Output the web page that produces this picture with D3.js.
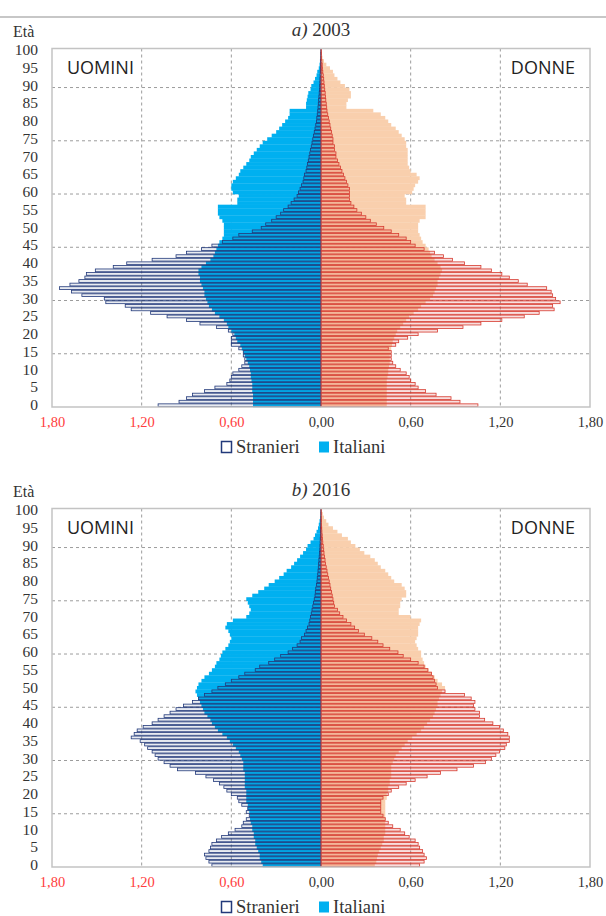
<!DOCTYPE html>
<html>
<head>
<meta charset="utf-8">
<script src="https://cdn.jsdelivr.net/npm/d3@7"></script>
<style>
  body { margin: 0; background: #fff; }
  svg { display: block; }
</style>
</head>
<body>
<svg id="chart" width="606" height="916"></svg>
<script>
// Età (0-100)
const ages = d3.range(0, 101);
const ageTicks = [0, 5, 10, 15, 20, 25, 30, 35, 40, 45, 50, 55, 60, 65, 70, 75, 80, 85, 90, 95, 100];
const ageGrid = [15, 30, 45, 60, 75, 90];
const xTicks = [-1.8, -1.2, -0.6, 0, 0.6, 1.2, 1.8];
const xGrid = [-1.2, -0.6, 0.6, 1.2];

// Quote percentuali per età, 2003
const italianiUomini2003 = [
  .455,.455,.455,.455,.46,.46,.46,.465,.47,.47,
  .475,.48,.49,.50,.51,.52,.53,.54,.56,.57,
  .58,.60,.62,.63,.65,.68,.71,.73,.75,.76,
  .77,.78,.78,.79,.80,.81,.81,.82,.82,.80,
  .77,.74,.72,.71,.70,.69,.68,.66,.65,.65,
  .65,.65,.66,.68,.69,.69,.69,.56,.56,.55,
  .59,.60,.60,.59,.57,.55,.54,.52,.50,.48,
  .47,.45,.43,.41,.39,.36,.33,.30,.28,.26,
  .24,.22,.21,.21,.10,.10,.095,.09,.085,.07,
  .065,.05,.04,.03,.025,.015,.01,.007,.004,.003,.002
];
const stranieriUomini2003 = [
  1.09,.95,.90,.86,.78,.71,.63,.61,.60,.59,
  .55,.53,.51,.51,.52,.52,.55,.60,.60,.60,
  .59,.62,.70,.81,.90,1.03,1.14,1.27,1.31,1.44,
  1.45,1.60,1.67,1.75,1.68,1.62,1.58,1.57,1.51,1.39,
  1.30,1.13,.97,.90,.80,.73,.66,.59,.55,.46,
  .40,.37,.33,.30,.27,.25,.22,.20,.18,.16,
  .15,.14,.13,.12,.115,.11,.10,.095,.09,.085,
  .08,.075,.07,.065,.06,.055,.05,.045,.04,.035,
  .03,.028,.025,.022,.02,.018,.016,.014,.012,.01,
  .009,.008,.007,.006,.005,.004,.003,.003,.002,.002,.001
];
const italianeDonne2003 = [
  .44,.44,.44,.44,.44,.44,.44,.44,.445,.45,
  .45,.455,.46,.46,.46,.465,.47,.475,.48,.49,
  .50,.51,.53,.55,.57,.59,.62,.65,.67,.70,
  .73,.75,.76,.77,.78,.78,.79,.80,.81,.80,
  .78,.76,.74,.73,.72,.70,.68,.67,.66,.65,
  .65,.65,.66,.70,.70,.70,.70,.57,.57,.56,
  .61,.62,.63,.65,.66,.64,.60,.59,.58,.58,
  .58,.58,.58,.57,.57,.56,.54,.52,.50,.47,
  .45,.43,.40,.35,.17,.17,.18,.20,.20,.19,
  .16,.13,.11,.09,.08,.06,.036,.02,.01,.006,.004
];
const straniereDonne2003 = [
  1.05,.93,.87,.77,.70,.65,.63,.60,.59,.57,
  .53,.50,.48,.47,.47,.47,.45,.50,.52,.58,
  .65,.78,.95,1.07,1.21,1.36,1.46,1.56,1.55,1.60,
  1.57,1.55,1.54,1.51,1.38,1.32,1.26,1.21,1.14,1.07,
  .96,.88,.82,.76,.69,.63,.60,.57,.52,.47,
  .42,.37,.33,.30,.27,.24,.22,.20,.19,.19,
  .19,.19,.18,.17,.16,.15,.14,.13,.12,.11,
  .10,.10,.09,.09,.08,.08,.075,.07,.065,.06,
  .055,.05,.045,.04,.038,.035,.032,.03,.028,.025,
  .022,.02,.018,.015,.012,.01,.008,.006,.004,.003,.002
];

// Quote percentuali per età, 2016
const italianiUomini2016 = [
  .39,.40,.41,.41,.42,.43,.44,.44,.45,.45,
  .46,.46,.47,.475,.475,.48,.49,.49,.50,.50,
  .50,.50,.51,.51,.51,.51,.51,.52,.52,.52,
  .53,.54,.55,.57,.59,.61,.63,.66,.69,.71,
  .73,.74,.76,.78,.79,.80,.81,.82,.83,.84,
  .83,.82,.80,.78,.75,.73,.71,.70,.68,.67,
  .66,.64,.62,.61,.60,.61,.62,.64,.63,.59,
  .50,.48,.47,.48,.49,.50,.46,.42,.38,.35,
  .31,.28,.25,.23,.20,.18,.16,.14,.12,.10,
  .09,.07,.05,.04,.03,.02,.015,.01,.006,.004,.002
];
const stranieriUomini2016 = [
  .73,.75,.77,.78,.75,.74,.73,.70,.665,.62,
  .575,.53,.52,.50,.48,.50,.49,.53,.55,.56,
  .60,.63,.65,.68,.72,.77,.84,.96,1.01,1.05,
  1.09,1.11,1.13,1.16,1.18,1.21,1.27,1.25,1.23,1.19,
  1.13,1.09,1.05,1.01,.97,.92,.86,.82,.78,.73,
  .69,.64,.60,.55,.51,.44,.41,.35,.31,.27,
  .22,.19,.16,.14,.13,.11,.10,.09,.08,.075,
  .07,.065,.06,.055,.05,.045,.04,.038,.035,.03,
  .027,.025,.022,.02,.018,.016,.014,.012,.01,.008,
  .007,.006,.005,.004,.003,.003,.002,.002,.001,.001,.001
];
const italianeDonne2016 = [
  .36,.37,.375,.38,.39,.40,.41,.42,.42,.43,
  .43,.43,.43,.43,.43,.43,.43,.43,.43,.44,
  .44,.45,.45,.46,.46,.47,.47,.47,.47,.48,
  .49,.50,.52,.54,.56,.58,.61,.64,.67,.69,
  .71,.73,.75,.76,.77,.78,.78,.79,.80,.81,
  .83,.81,.78,.76,.74,.72,.70,.69,.68,.67,
  .67,.65,.64,.63,.64,.65,.65,.65,.66,.67,
  .60,.52,.52,.53,.53,.54,.57,.57,.56,.54,
  .49,.47,.45,.43,.40,.38,.36,.33,.29,.26,
  .23,.20,.18,.14,.11,.08,.05,.035,.02,.012,.007
];
const straniereDonne2016 = [
  .66,.69,.705,.69,.68,.66,.65,.63,.59,.56,
  .53,.48,.45,.43,.415,.40,.40,.40,.40,.415,
  .45,.47,.52,.57,.63,.71,.80,.91,1.02,1.10,
  1.14,1.17,1.195,1.23,1.24,1.26,1.26,1.25,1.22,1.195,
  1.15,1.095,1.06,1.06,1.03,1.02,1.03,1.005,.96,.83,
  .78,.77,.76,.75,.74,.715,.69,.65,.60,.55,
  .515,.46,.415,.38,.34,.29,.25,.225,.20,.17,
  .147,.125,.11,.09,.085,.08,.075,.07,.065,.06,
  .055,.05,.045,.04,.035,.03,.027,.024,.02,.018,
  .015,.012,.01,.008,.006,.005,.004,.003,.002,.002,.001
];

const panels = [
  { letter: "a)", year: "2003", top: 0,
    itM: italianiUomini2003, stM: stranieriUomini2003,
    itF: italianeDonne2003, stF: straniereDonne2003 },
  { letter: "b)", year: "2016", top: 460,
    itM: italianiUomini2016, stM: stranieriUomini2016,
    itF: italianeDonne2016, stF: straniereDonne2016 }
];

const colors = {
  itM: "#00b0f0",
  itF: "#f9cfad",
  stM: "#22397a",
  stF: "#d63a2f",
  grid: "#9c9c9c",
  frame: "#c3c3c3",
  redTick: "#ff3d3d",
  text: "#333"
};

const svg = d3.select("#chart");
const serif = "'Liberation Serif', 'DejaVu Serif', serif";
const sans = "'Open Sans', 'Liberation Sans', sans-serif";

// top rule
svg.append("line")
  .attr("x1", 0).attr("x2", 606).attr("y1", 17).attr("y2", 17)
  .attr("stroke", "#b4b4b4").attr("stroke-width", 1.5);

const x = d3.scaleLinear().domain([-1.8, 1.8]).range([52, 590]);
const fmt = v => d3.format(".2f")(Math.abs(v)).replace(".", ",");

panels.forEach(p => {
  const g = svg.append("g").attr("transform", `translate(0,${p.top})`);
  const plotTop = 48.5, plotBottom = 407;
  const y = d3.scaleBand().domain(ages).range([plotBottom, plotTop]).padding(0);
  const bw = y.bandwidth();

  // grid
  const grid = g.append("g").attr("stroke", colors.grid)
    .attr("stroke-width", 1).attr("stroke-dasharray", "3,3");
  grid.selectAll("line.v").data(xGrid).join("line").attr("class", "v")
    .attr("x1", d => x(d)).attr("x2", d => x(d))
    .attr("y1", plotTop).attr("y2", plotBottom);
  grid.selectAll("line.h").data(ageGrid).join("line").attr("class", "h")
    .attr("x1", x(-1.8)).attr("x2", x(1.8))
    .attr("y1", d => y(d) + bw).attr("y2", d => y(d) + bw);

  // Italiani
  g.append("g").selectAll("rect").data(ages).join("rect")
    .attr("x", a => x(-p.itM[a])).attr("width", a => x(0) - x(-p.itM[a]))
    .attr("y", a => y(a)).attr("height", bw + 0.3)
    .attr("fill", colors.itM);
  g.append("g").selectAll("rect").data(ages).join("rect")
    .attr("x", x(0)).attr("width", a => x(p.itF[a]) - x(0))
    .attr("y", a => y(a)).attr("height", bw + 0.3)
    .attr("fill", colors.itF);

  // Stranieri
  g.append("g").selectAll("rect").data(ages).join("rect")
    .attr("x", a => x(-p.stM[a])).attr("width", a => x(0) - x(-p.stM[a]))
    .attr("y", a => y(a) + 0.4).attr("height", bw - 0.8)
    .attr("fill", colors.stM).attr("fill-opacity", 0.1)
    .attr("stroke", colors.stM).attr("stroke-width", 0.8);
  g.append("g").selectAll("rect").data(ages).join("rect")
    .attr("x", x(0)).attr("width", a => x(p.stF[a]) - x(0))
    .attr("y", a => y(a) + 0.4).attr("height", bw - 0.8)
    .attr("fill", colors.stF).attr("fill-opacity", 0.16)
    .attr("stroke", colors.stF).attr("stroke-width", 0.8);

  // frame
  g.append("rect")
    .attr("x", x(-1.8)).attr("y", plotTop)
    .attr("width", x(1.8) - x(-1.8)).attr("height", plotBottom - plotTop)
    .attr("fill", "none").attr("stroke", colors.frame).attr("stroke-width", 1.5);

  // axes
  const xAxis = g.append("g").attr("transform", `translate(0,${plotBottom + 7})`)
    .call(d3.axisBottom(x).tickValues(xTicks).tickFormat(fmt).tickSize(0));
  xAxis.select(".domain").remove();
  xAxis.selectAll("text")
    .attr("font-family", serif).attr("font-size", 14.5)
    .attr("fill", d => d < 0 ? colors.redTick : colors.text);

  const yAxis = g.append("g").attr("transform", `translate(41,0)`)
    .call(d3.axisLeft(y).tickValues(ageTicks).tickSize(0));
  yAxis.select(".domain").remove();
  yAxis.selectAll("text")
    .attr("font-family", serif).attr("font-size", 15.5).attr("fill", colors.text);

  // labels
  g.append("text").attr("x", 13).attr("y", 37)
    .attr("font-family", serif).attr("font-size", 16).attr("fill", colors.text)
    .text("Età");
  const title = g.append("text").attr("x", 321).attr("y", 36)
    .attr("text-anchor", "middle")
    .attr("font-family", serif).attr("font-size", 19).attr("fill", colors.text);
  title.append("tspan").attr("font-style", "italic").text(p.letter);
  title.append("tspan").text(" " + p.year);

  g.append("text").attr("x", 67).attr("y", 74)
    .attr("font-family", sans).attr("font-size", 18).attr("fill", "#222")
    .text("UOMINI");
  g.append("text").attr("x", 575).attr("y", 74).attr("text-anchor", "end")
    .attr("font-family", sans).attr("font-size", 18).attr("fill", "#222")
    .text("DONNE");

  // legend
  const lg = g.append("g").attr("transform", `translate(0,447)`);
  lg.append("rect").attr("x", 221.5).attr("y", -5.5).attr("width", 10).attr("height", 11)
    .attr("fill", "#fff").attr("stroke", colors.stM).attr("stroke-width", 1.5);
  lg.append("text").attr("x", 236).attr("y", 5.5)
    .attr("font-family", serif).attr("font-size", 18.5).attr("fill", colors.text)
    .text("Stranieri");
  lg.append("rect").attr("x", 319).attr("y", -5.5).attr("width", 10).attr("height", 11)
    .attr("fill", colors.itM);
  lg.append("text").attr("x", 333).attr("y", 5.5)
    .attr("font-family", serif).attr("font-size", 18.5).attr("fill", colors.text)
    .text("Italiani");
});
</script>
</body>
</html>
